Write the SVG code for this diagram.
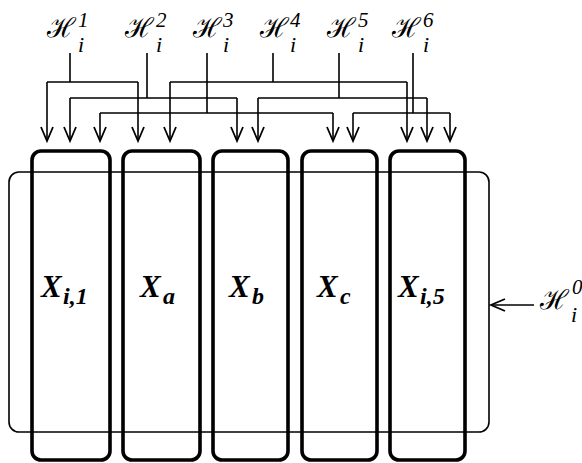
<svg xmlns="http://www.w3.org/2000/svg" width="582" height="463" viewBox="0 0 582 463">
<style>
.box{fill:none;stroke:#000;stroke-width:3.6}
.outer{fill:none;stroke:#000;stroke-width:1.6}
.ln{fill:none;stroke:#000;stroke-width:1.6}
.ar{fill:none;stroke:#000;stroke-width:1.6;marker-end:url(#ah)}
.X{font-family:"Liberation Serif","Times New Roman",serif;font-style:italic;font-weight:bold;font-size:31px}
.Xs{font-family:"Liberation Serif","Times New Roman",serif;font-style:italic;font-weight:bold;font-size:24px}
.H{font-family:"DejaVu Serif","Noto Sans",serif;font-size:27px}
.sup{font-family:"Liberation Serif","Times New Roman",serif;font-style:italic;font-size:21px}
.sub{font-family:"Liberation Serif","Times New Roman",serif;font-style:italic;font-size:22px}
</style>
<defs>
<marker id="ah" markerUnits="userSpaceOnUse" markerWidth="30" markerHeight="30" refX="0" refY="0" orient="auto" overflow="visible">
<path d="M-14,-6 L0,0 L-14,6" fill="none" stroke="#000" stroke-width="1.8"/>
</marker>
</defs>
<rect width="582" height="463" fill="#fff"/>
<g id="region">
<rect class="outer" x="9" y="172" width="480" height="260" rx="10"/>
</g>
<g id="x1"><rect class="box" x="32" y="151" width="78" height="309" rx="9"/><text class="X" x="41" y="297">X</text><text class="Xs" x="63" y="304">i,1</text></g>
<g id="xa"><rect class="box" x="123" y="151" width="77" height="309" rx="9"/><text class="X" x="140" y="297">X</text><text class="Xs" x="163" y="304">a</text></g>
<g id="xb"><rect class="box" x="213" y="151" width="75" height="309" rx="9"/><text class="X" x="229" y="297">X</text><text class="Xs" x="252" y="304">b</text></g>
<g id="xc"><rect class="box" x="302" y="151" width="75" height="309" rx="9"/><text class="X" x="317" y="297">X</text><text class="Xs" x="340" y="304">c</text></g>
<g id="x5"><rect class="box" x="390" y="151" width="75" height="309" rx="9"/><text class="X" x="398" y="297">X</text><text class="Xs" x="420" y="304">i,5</text></g>
<g id="h1"><text class="H" x="47" y="37">ℋ</text><text class="sup" x="78" y="27">1</text><text class="sub" x="78" y="52">i</text></g>
<g id="h2"><text class="H" x="125" y="37">ℋ</text><text class="sup" x="156" y="27">2</text><text class="sub" x="156" y="52">i</text></g>
<g id="h3"><text class="H" x="193" y="37">ℋ</text><text class="sup" x="223" y="27">3</text><text class="sub" x="223" y="52">i</text></g>
<g id="h4"><text class="H" x="260" y="37">ℋ</text><text class="sup" x="290" y="27">4</text><text class="sub" x="290" y="52">i</text></g>
<g id="h5"><text class="H" x="327" y="37">ℋ</text><text class="sup" x="358" y="27">5</text><text class="sub" x="358" y="52">i</text></g>
<g id="h6"><text class="H" x="392" y="37">ℋ</text><text class="sup" x="423" y="27">6</text><text class="sub" x="423" y="52">i</text></g>
<g id="h0"><text class="H" x="540" y="309">ℋ</text><text class="sup" x="572" y="294">0</text><text class="sub" x="571" y="322">i</text></g>
<g id="connectors">
<path class="ln" d="M70,53 V82 M47,82 H138"/>
<path class="ar" d="M47,82 V141"/><path class="ar" d="M138,82 V141"/>
<path class="ln" d="M147,53 V98 M70,98 H237"/>
<path class="ar" d="M70,98 V141"/><path class="ar" d="M237,98 V141"/>
<path class="ln" d="M207,53 V113 M100,113 H333"/>
<path class="ar" d="M100,113 V141"/><path class="ar" d="M333,113 V141"/>
<path class="ln" d="M273,53 V82 M170,82 H407"/>
<path class="ar" d="M170,82 V141"/><path class="ar" d="M407,82 V141"/>
<path class="ln" d="M339,53 V98 M258,98 H427"/>
<path class="ar" d="M258,98 V141"/><path class="ar" d="M427,98 V141"/>
<path class="ln" d="M413,53 V113 M353,113 H450"/>
<path class="ar" d="M353,113 V141"/><path class="ar" d="M450,113 V141"/>
<path class="ar" d="M534,305 H491"/>
</g>
</svg>
